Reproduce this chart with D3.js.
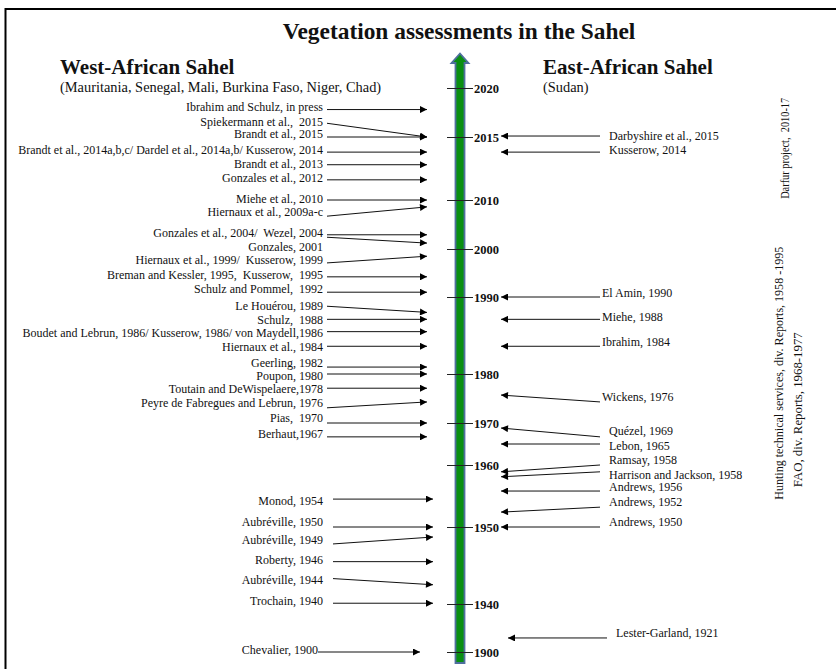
<!DOCTYPE html>
<html>
<head>
<meta charset="utf-8">
<script src="https://cdn.jsdelivr.net/npm/d3@7"></script>
<style>
  body { margin: 0; background: #fff; }
  text { font-family: "Liberation Serif", "Times New Roman", serif; fill: #111; white-space: pre; }
</style>
</head>
<body>
<div id="chart"></div>
<script>
// Timeline ticks (the axis is drawn piecewise, not to scale)
var tickYears = [1900, 1940, 1950, 1960, 1970, 1980, 1990, 2000, 2010, 2015, 2020];

// West-African Sahel: label, where the label sits on the timeline, arrow start and arrow end
var westLabels = [
  "Ibrahim and Schulz, in press",
  "Spiekermann et al.,  2015",
  "Brandt et al., 2015",
  "Brandt et al., 2014a,b,c/ Dardel et al., 2014a,b/ Kusserow, 2014",
  "Brandt et al., 2013",
  "Gonzales et al., 2012",
  "Miehe et al., 2010",
  "Hiernaux et al., 2009a-c",
  "Gonzales et al., 2004/  Wezel, 2004",
  "Gonzales, 2001",
  "Hiernaux et al., 1999/  Kusserow, 1999",
  "Breman and Kessler, 1995,  Kusserow,  1995",
  "Schulz and Pommel,  1992",
  "Le Houérou, 1989",
  "Schulz,  1988",
  "Boudet and Lebrun, 1986/ Kusserow, 1986/ von Maydell,1986",
  "Hiernaux et al., 1984",
  "Geerling, 1982",
  "Poupon, 1980",
  "Toutain and DeWispelaere,1978",
  "Peyre de Fabregues and Lebrun, 1976",
  "Pias,  1970",
  "Berhaut,1967",
  "Monod, 1954",
  "Aubréville, 1950",
  "Aubréville, 1949",
  "Roberty, 1946",
  "Aubréville, 1944",
  "Trochain, 1940",
  "Chevalier, 1900"
];
var westText = [2018.1, 2016.6, 2015.3, 2014.0, 2012.9, 2011.8, 2010.1, 2007.6, 2003.3, 2000.4,
  1997.7, 1994.6, 1991.7, 1988.8, 1987.0, 1985.3, 1983.5, 1981.4, 1979.6, 1976.9,
  1974.1, 1971.0, 1967.4, 1954.2, 1950.8, 1948.4, 1945.8, 1943.1, 1940.4, 1901.7];
var westFrom = [2017.8, 2016.4, 2015.0, 2013.8, 2012.8, 2011.6, 2010.0, 2006.7, 2002.9, 2002.4,
  1997.1, 1994.2, 1991.0, 1988.8, 1987.1, 1985.5, 1983.6, 1980.9, 1980.0, 1977.1,
  1973.1, 1970.0, 1966.7, 1954.5, 1950.0, 1947.8, 1945.5, 1943.3, 1940.1, 1900.0];
var westTo = [2017.8, 2015.0, 2015.0, 2013.8, 2012.8, 2011.6, 2010.0, 2008.6, 2002.9, 2001.2,
  1998.5, 1994.2, 1991.0, 1988.0, 1987.1, 1985.5, 1983.6, 1980.9, 1980.0, 1977.1,
  1974.3, 1970.0, 1966.7, 1954.5, 1950.0, 1948.7, 1945.5, 1942.5, 1940.1, 1900.0];

// East-African Sahel
var eastLabels = [
  "Darbyshire et al., 2015",
  "Kusserow, 2014",
  "El Amin, 1990",
  "Miehe, 1988",
  "Ibrahim, 1984",
  "Wickens, 1976",
  "Quézel, 1969",
  "Lebon, 1965",
  "Ramsay, 1958",
  "Harrison and Jackson, 1958",
  "Andrews, 1956",
  "Andrews, 1952",
  "Andrews, 1950",
  "Lester-Garland, 1921"
];
var eastText = [2015.1, 2014.0, 1990.8, 1987.4, 1984.2, 1975.3, 1968.1, 1964.5, 1961.2, 1958.5, 1956.5, 1954.0, 1950.8, 1915.8];
var eastFrom = [2015.1, 2013.8, 1990.0, 1987.1, 1983.6, 1974.3, 1966.7, 1965.0, 1960.0, 1958.9, 1955.8, 1953.2, 1950.0, 1911.7];
var eastTo = [2015.1, 2013.8, 1990.0, 1987.1, 1983.6, 1975.7, 1968.8, 1965.0, 1958.9, 1958.1, 1955.8, 1952.4, 1950.0, 1911.7];

// Long-running report series, written vertically on the right
var sideNotes = [
  "Darfur project,  2010-17",
  "Hunting technical services, div. Reports, 1958 -1995",
  "FAO, div. Reports, 1968-1977"
];
var sideNoteAt = [2014.1, 1980.1, 1972.7];

var svgWidth = 836;
var svgHeight = 669;

var svg = d3.select("#chart")
  .append("svg")
  .attr("width", svgWidth)
  .attr("height", svgHeight);

// arrowhead
svg.append("defs").append("marker")
  .attr("id", "head")
  .attr("viewBox", "0 0 10 10")
  .attr("refX", 10)
  .attr("refY", 5)
  .attr("markerUnits", "userSpaceOnUse")
  .attr("markerWidth", 9)
  .attr("markerHeight", 7)
  .attr("orient", "auto")
  .append("path")
  .attr("d", "M0,0 L10,5 L0,10 Z")
  .attr("fill", "#000");

// frame
svg.append("rect")
  .attr("x", 5.5)
  .attr("y", 9)
  .attr("width", 840)
  .attr("height", 680)
  .attr("fill", "none")
  .attr("stroke", "#000")
  .attr("stroke-width", 2);

// Step 1: scale for the timeline
var yScale = d3.scaleLinear()
  .domain(tickYears)
  .range([652, 604, 527, 465, 423, 374, 297, 249, 200, 137, 88]);

// Step 2: the green timeline arrow
var barX = 460;
svg.append("path")
  .attr("d", `M${barX - 4.5},663 L${barX - 4.5},63 L${barX - 8.5},63 L${barX},53.5 L${barX + 8.5},63 L${barX + 4.5},63 L${barX + 4.5},663 Z`)
  .attr("fill", "#0a8f12")
  .attr("stroke", "#4f6f9e")
  .attr("stroke-width", 1.8);

// Step 3: axis ticks and year labels
var axis = d3.axisRight(yScale)
  .tickValues(tickYears)
  .tickFormat(d3.format("d"))
  .tickSize(26)
  .tickPadding(1);

var axisGroup = svg.append("g")
  .attr("transform", "translate(447,0)")
  .call(axis);

axisGroup.select(".domain").remove();
axisGroup.selectAll("line").attr("stroke", "#222");
axisGroup.selectAll("text")
  .attr("font-family", "Liberation Serif, serif")
  .attr("font-size", 12.5)
  .attr("font-weight", "bold")
  .attr("fill", "#111");

// Step 4: titles
svg.append("text")
  .attr("x", 459)
  .attr("y", 39)
  .attr("text-anchor", "middle")
  .attr("font-size", 23.4)
  .attr("font-weight", "bold")
  .text("Vegetation assessments in the Sahel");

svg.append("text")
  .attr("x", 60)
  .attr("y", 74)
  .attr("font-size", 21)
  .attr("font-weight", "bold")
  .text("West-African Sahel");

svg.append("text")
  .attr("x", 60)
  .attr("y", 92)
  .attr("font-size", 14.4)
  .text("(Mauritania, Senegal, Mali, Burkina Faso, Niger, Chad)");

svg.append("text")
  .attr("x", 543)
  .attr("y", 74)
  .attr("font-size", 21)
  .attr("font-weight", "bold")
  .text("East-African Sahel");

svg.append("text")
  .attr("x", 543)
  .attr("y", 92)
  .attr("font-size", 14.4)
  .text("(Sudan)");

// Step 5: west entries, arrows point right to the timeline
var west = westLabels.map(function(d, i) {
  return { label: d, at: westText[i], from: westFrom[i], to: westTo[i], i: i };
});

// pre-1960 entries sit a little further right; Chevalier starts right at its label
function westX(d) {
  if (d.i === west.length - 1) return { text: 318, x1: 318, x2: 420 };
  if (d.at < 1960) return { text: 323, x1: 333, x2: 433 };
  return { text: 323, x1: 327, x2: 427 };
}

var westGroup = svg.append("g");

westGroup.selectAll("line")
  .data(west)
  .enter()
  .append("line")
  .attr("x1", d => westX(d).x1)
  .attr("y1", d => yScale(d.from))
  .attr("x2", d => westX(d).x2)
  .attr("y2", d => yScale(d.to))
  .attr("stroke", "#111")
  .attr("stroke-width", 1)
  .attr("marker-end", "url(#head)");

westGroup.selectAll("text")
  .data(west)
  .enter()
  .append("text")
  .attr("x", d => westX(d).text)
  .attr("y", d => yScale(d.at))
  .attr("dy", "0.35em")
  .attr("text-anchor", "end")
  .attr("font-size", 12)
  .text(d => d.label);

// Step 6: east entries, arrows point left to the timeline
var east = eastLabels.map(function(d, i) {
  return { label: d, at: eastText[i], from: eastFrom[i], to: eastTo[i], i: i };
});

function eastX(d) {
  if (d.i === east.length - 1) return { text: 616, x1: 607, x2: 508 };
  if (d.i >= 2 && d.i <= 5) return { text: 602, x1: 600, x2: 501 };
  return { text: 609, x1: 600, x2: 501 };
}

var eastGroup = svg.append("g");

eastGroup.selectAll("line")
  .data(east)
  .enter()
  .append("line")
  .attr("x1", d => eastX(d).x1)
  .attr("y1", d => yScale(d.from))
  .attr("x2", d => eastX(d).x2)
  .attr("y2", d => yScale(d.to))
  .attr("stroke", "#111")
  .attr("stroke-width", 1)
  .attr("marker-end", "url(#head)");

eastGroup.selectAll("text")
  .data(east)
  .enter()
  .append("text")
  .attr("x", d => eastX(d).text)
  .attr("y", d => yScale(d.at))
  .attr("dy", "0.35em")
  .attr("font-size", 12)
  .text(d => d.label);

// Step 7: vertical side notes
var noteX = [785, 779, 798];
var noteLen = [101, 253, 155];
svg.selectAll(".note")
  .data(sideNotes)
  .enter()
  .append("text")
  .attr("class", "note")
  .attr("transform", (d, i) => `translate(${noteX[i]}, ${yScale(sideNoteAt[i])}) rotate(-90)`)
  .attr("dy", "0.35em")
  .attr("text-anchor", "middle")
  .attr("font-size", 11.5)
  .attr("textLength", (d, i) => noteLen[i])
  .attr("lengthAdjust", "spacingAndGlyphs")
  .attr("fill", "#333")
  .text(d => d);
</script>
</body>
</html>
